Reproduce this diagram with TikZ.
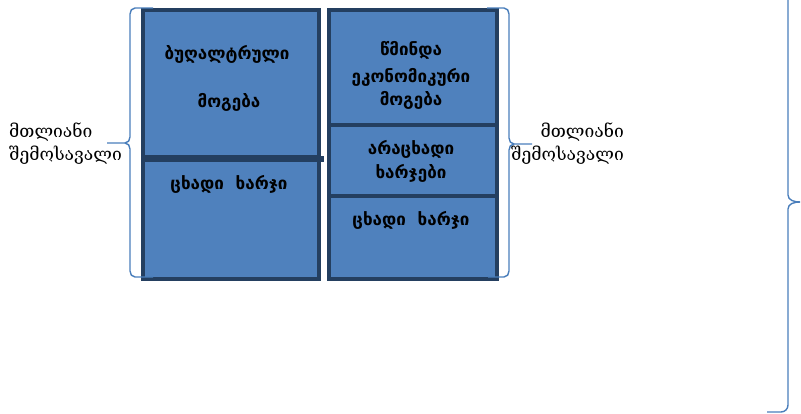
\documentclass[tikz,border=0pt]{standalone}
\usepackage{fontspec}
\newfontfamily\geoserif{DejaVu Serif}
\newfontfamily\geosans{DejaVu Sans}
\definecolor{cellfill}{HTML}{4F81BD}
\definecolor{celledge}{HTML}{243F60}
\definecolor{bracecol}{HTML}{4A7EBB}
\begin{document}
\begin{tikzpicture}[x=1pt,y=-1pt,
  cell/.style={draw=celledge, fill=cellfill, line width=4pt, inner sep=0pt, anchor=north west},
  celltext/.style={font=\geosans\bfseries\fontsize{17}{19}\selectfont, text=black, inner sep=0pt},
  sidetext/.style={font=\geoserif\fontsize{17.5}{23}\selectfont, text=black, inner sep=0pt, align=#1},
  brace/.style={draw=bracecol, line width=1.4pt}]
\useasboundingbox (0,0) rectangle (801,414);
% left column
\node[cell, minimum width=176pt, minimum height=147pt] (lt) at (141,8) {};
\node[cell, minimum width=176pt, minimum height=122pt] (lb) at (141,155) {};
\draw[line width=6pt, celledge] (lt.south west) -- ([xshift=3pt]lt.south east);
% right column
\node[cell, minimum width=168pt, minimum height=115pt] (rt) at (327,8) {};
\node[cell, minimum width=168pt, minimum height=71pt] (rm) at (327,123) {};
\node[cell, minimum width=168pt, minimum height=83pt] (rb) at (327,194) {};
% texts
\node[celltext] (t1) at (227,54) {ბუღალტრული};
\node[celltext] (t2) at (229,102) {მოგება};
\node[celltext] (t3) at (229,184) {ცხადი\ \ ხარჯი};
\node[celltext] (t4) at (411,50) {წმინდა};
\node[celltext] (t5) at (411,77) {ეკონომიკური};
\node[celltext] (t6) at (411,100) {მოგება};
\node[celltext] (t7) at (411,149) {არაცხადი};
\node[celltext] (t8) at (411,173) {ხარჯები};
\node[celltext] (t9) at (411,220) {ცხადი\ \ ხარჯი};
% side labels
\node[sidetext=left, anchor=west] (ll) at (9,144) {მთლიანი\\შემოსავალი};
\node[sidetext=right, anchor=east] (rl) at (624,144) {მთლიანი\\შემოსავალი};
% left brace
\draw[brace] (153,8) -- (135,8) to[out=180,in=90] (130,14) -- (130,137) to[out=270,in=0] (125,143) -- (107,143);
\draw[brace] (125,143) to[out=0,in=90] (130,149) -- (130,271) to[out=270,in=180] (135,277) -- (153,277);
% right brace
\draw[brace] (487,8) -- (504,8) to[out=0,in=90] (509,14) -- (509,138) to[out=270,in=180] (514,144) -- (532,144);
\draw[brace] (514,144) to[out=180,in=90] (509,150) -- (509,271) to[out=270,in=0] (504,277) -- (488,277);
% far right brace
\draw[brace] (788,-5) -- (788,195) to[out=270,in=180] (800,202);
\draw[brace] (800,202) to[out=180,in=90] (788,209) -- (788,405) to[out=270,in=0] (781,412) -- (767,412);
\end{tikzpicture}
\end{document}
